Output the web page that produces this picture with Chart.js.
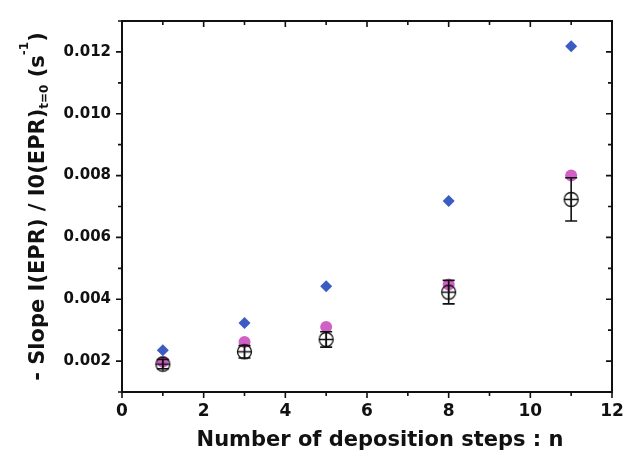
<!DOCTYPE html>
<html><head><meta charset="utf-8">
<script src="https://cdn.jsdelivr.net/npm/chart.js@4"></script>
<style>html,body{margin:0;padding:0;background:#fff}#wrap{width:633px;height:464px}</style>
</head><body><div id="wrap"><canvas id="c" width="633" height="464"></canvas></div>
<script>
const steps = [1, 3, 5, 8, 11];
const seriesBlue = [0.00235, 0.00323, 0.00442, 0.00718, 0.01218];
const seriesMagenta = [0.00198, 0.00262, 0.00310, 0.00448, 0.00800];
const seriesOpen = [0.00190, 0.00230, 0.00270, 0.00423, 0.00723];
const seriesOpenErr = [0.00015, 0.00020, 0.00025, 0.00038, 0.00070];
const xTickLabels = [0, 2, 4, 6, 8, 10, 12];
const xMinorTicks = [1, 3, 5, 7, 9, 11];
const yTickLabels = [0.002, 0.004, 0.006, 0.008, 0.010, 0.012];
const yMinorTicks = [0.001, 0.003, 0.005, 0.007, 0.009, 0.011, 0.013];
const xTitle = 'Number of deposition steps : n';
const yTitleParts = [
  {t: '- Slope I(EPR) / I0(EPR)', k: 'n'},
  {t: 't=0', k: 'sub'},
  {t: ' (s', k: 'n'},
  {t: '-1', k: 'sup'},
  {t: ')', k: 'n'}
];

const FONT = '"DejaVu Sans", sans-serif';

// open circle with cross marker
const openMarker = document.createElement('canvas');
openMarker.width = 17; openMarker.height = 17;
(function(){
  const g = openMarker.getContext('2d');
  g.strokeStyle = '#111'; g.lineWidth = 1.3;
  g.beginPath(); g.arc(8.5, 8.5, 7, 0, Math.PI*2); g.stroke();
  g.beginPath(); g.moveTo(1.5, 8.5); g.lineTo(15.5, 8.5);
  g.moveTo(8.5, 1.5); g.lineTo(8.5, 15.5); g.stroke();
})();

const framePlugin = {
  id: 'frame',
  beforeDatasetsDraw(chart) {
    const {ctx, chartArea: a, scales: {x, y}} = chart;
    ctx.save();
    ctx.strokeStyle = '#111';
    ctx.lineWidth = 2;
    ctx.strokeRect(a.left, a.top, a.right - a.left, a.bottom - a.top);
    ctx.lineWidth = 1.6;
    ctx.beginPath();
    const tick = (vals, len) => {
      vals.forEach(v => {
        const px = x.getPixelForValue(v);
        ctx.moveTo(px, a.bottom); ctx.lineTo(px, a.bottom + len);
        ctx.moveTo(px, a.top); ctx.lineTo(px, a.top + len);
      });
    };
    tick(xTickLabels, 6); tick(xMinorTicks, 4);
    const ytick = (vals, len) => {
      vals.forEach(v => {
        const py = y.getPixelForValue(v);
        ctx.moveTo(a.left, py); ctx.lineTo(a.left - len, py);
        ctx.moveTo(a.right, py); ctx.lineTo(a.right - len, py);
      });
    };
    ytick(yTickLabels, 6); ytick(yMinorTicks, 4);
    ctx.stroke();
    ctx.restore();
  },
  afterDatasetsDraw(chart) {
    const {ctx, scales: {x, y}} = chart;
    ctx.save();
    ctx.strokeStyle = '#111';
    ctx.lineWidth = 1.6;
    ctx.beginPath();
    steps.forEach((s, i) => {
      const px = x.getPixelForValue(s);
      const hi = y.getPixelForValue(seriesOpen[i] + seriesOpenErr[i]);
      const lo = y.getPixelForValue(seriesOpen[i] - seriesOpenErr[i]);
      ctx.moveTo(px, hi); ctx.lineTo(px, lo);
      ctx.moveTo(px - 6, hi); ctx.lineTo(px + 6, hi);
      ctx.moveTo(px - 6, lo); ctx.lineTo(px + 6, lo);
    });
    ctx.stroke();
    ctx.restore();
  },
  afterDraw(chart) {
    const {ctx, chartArea: a} = chart;
    ctx.save();
    ctx.fillStyle = '#111';
    ctx.textBaseline = 'middle';
    ctx.textAlign = 'center';
    ctx.font = 'bold 21px ' + FONT;
    ctx.fillText(xTitle, 380, 441);
    // y title
    const big = 'bold 21px ' + FONT, small = 'bold 12px ' + FONT;
    let total = 0;
    yTitleParts.forEach(p => { ctx.font = p.k === 'n' ? big : small; p.w = ctx.measureText(p.t).width; total += p.w; });
    ctx.translate(36, (a.top + a.bottom) / 2);
    ctx.rotate(-Math.PI / 2);
    ctx.textAlign = 'left';
    ctx.textBaseline = 'alphabetic';
    let cx = -total / 2;
    yTitleParts.forEach(p => {
      ctx.font = p.k === 'n' ? big : small;
      const dy = p.k === 'sub' ? 12 : (p.k === 'sup' ? -8 : 8);
      ctx.fillText(p.t, cx, dy);
      cx += p.w;
    });
    ctx.restore();
  }
};

const pts = arr => steps.map((s, i) => ({x: s, y: arr[i]}));

new Chart(document.getElementById('c'), {
  type: 'scatter',
  data: {
    datasets: [
      {label: 'A', data: pts(seriesBlue), pointStyle: 'rectRot', radius: 6,
       backgroundColor: '#3c5cc4', borderColor: '#3c5cc4', borderWidth: 0, order: 0},
      {label: 'C', data: pts(seriesOpen), pointStyle: openMarker, radius: 8, order: 1},
      {label: 'B', data: pts(seriesMagenta), pointStyle: 'circle', radius: 6,
       backgroundColor: '#d160c6', borderColor: '#d160c6', borderWidth: 0, order: 2}
    ]
  },
  options: {
    responsive: false,
    animation: false,
    devicePixelRatio: 1,
    layout: {padding: {top: 21, right: 21, left: 0, bottom: 0}},
    plugins: {legend: {display: false}, tooltip: {enabled: false}},
    scales: {
      x: {
        type: 'linear', min: 0, max: 12,
        afterBuildTicks: s => { s.ticks = xTickLabels.map(v => ({value: v})); },
        afterFit: s => { s.height = 72; },
        grid: {display: false, drawTicks: false},
        border: {display: false},
        ticks: {color: '#111', padding: 9, font: {family: FONT, weight: 'bold', size: 17}, maxRotation: 0,
                callback: v => String(v)}
      },
      y: {
        type: 'linear', min: 0.001, max: 0.013,
        afterBuildTicks: s => { s.ticks = yTickLabels.map(v => ({value: v})); },
        afterFit: s => { s.width = 122; },
        grid: {display: false, drawTicks: false},
        border: {display: false},
        ticks: {color: '#111', padding: 11, font: {family: FONT, weight: 'bold', size: 15},
                callback: v => v.toFixed(3)}
      }
    }
  },
  plugins: [framePlugin]
});
</script>
</body></html>
